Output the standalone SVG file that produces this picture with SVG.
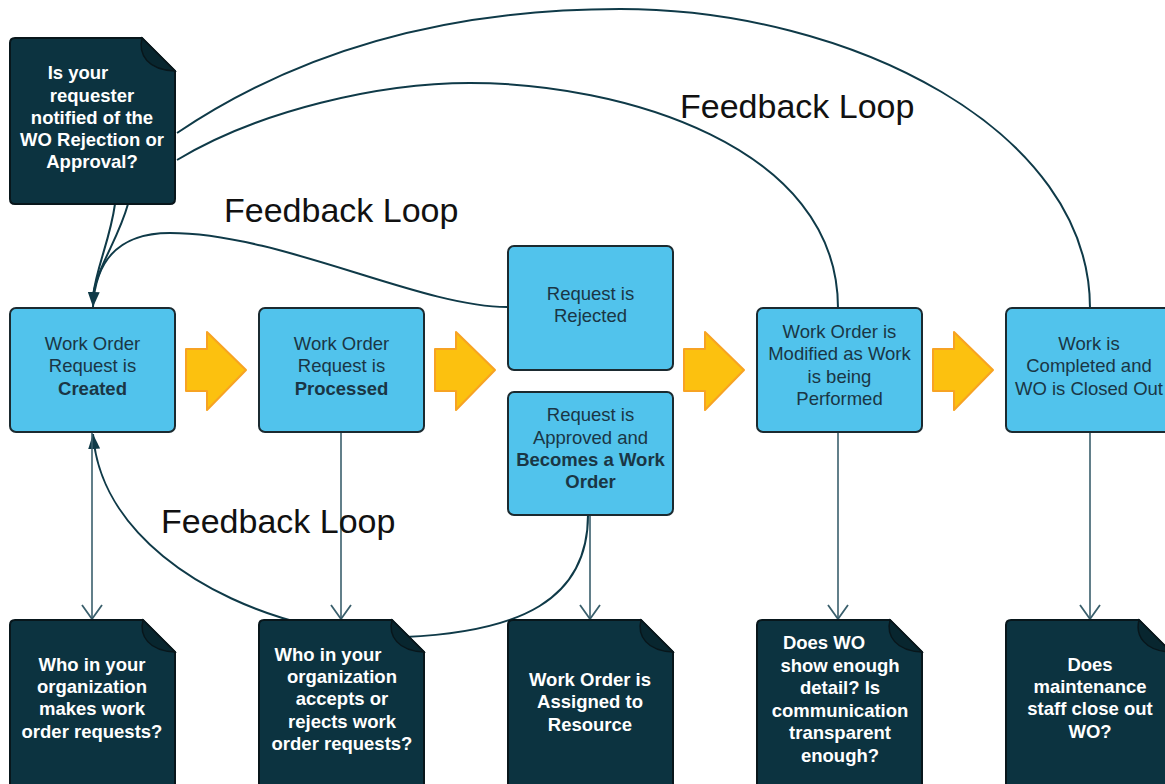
<svg xmlns="http://www.w3.org/2000/svg" width="1165" height="784" viewBox="0 0 1165 784">
<defs>
<style>
.box{fill:#51c3ec;stroke:#1b2a30;stroke-width:2}
.note{fill:#0c3340;stroke:#08161b;stroke-width:2}
.fold{fill:#08262f;stroke:#08161b;stroke-width:1.5}
.btxt{font-family:"Liberation Sans",Arial,sans-serif;font-size:18.5px;fill:#1a3645;text-anchor:middle}
.ntxt{font-family:"Liberation Sans",Arial,sans-serif;font-size:18.5px;font-weight:bold;fill:#ffffff;text-anchor:middle}
.b{font-weight:bold}
.lbl{font-family:"Liberation Sans",Arial,sans-serif;font-size:34px;fill:#111111}
.con{fill:none;stroke:#0f3a48;stroke-width:2}
.conl{fill:none;stroke:#3a5f6c;stroke-width:1.6}
.yarrow{fill:#fcc10f;stroke:#f7a323;stroke-width:2;stroke-linejoin:round}
</style>
<marker id="filled" viewBox="0 0 16 12" refX="15" refY="6" markerWidth="16" markerHeight="12" markerUnits="userSpaceOnUse" orient="auto">
<path d="M0,0 L15,6 L0,12 Z" fill="#0f3a48"/>
</marker>
<marker id="vee" viewBox="0 0 16 22" refX="15" refY="11" markerWidth="16" markerHeight="22" markerUnits="userSpaceOnUse" orient="auto">
<path d="M1,1 L15,11 L1,21" fill="none" stroke="#3a5f6c" stroke-width="1.8"/>
</marker>
<path id="arrowShape" d="M0,17 H21 V0 L60,38 L21,78 V59 H0 Z"/>
</defs>

<rect width="1165" height="784" fill="#ffffff"/>

<g id="connectors">
<!-- Completed -> top note -->
<path class="con" d="M1090,308 C1090,130 850,9 620,9 C450,9 300,50 177,133"/>
<!-- Modified -> top note -->
<path class="con" d="M838,308 C838,145 620,83 470,83 C380,83 260,110 177,160"/>
<!-- top note -> Created -->
<path class="con" d="M115,204 C110,240 97,265 93,296"/>
<path class="con" d="M128,204 C118,240 98,265 93,296"/>
<!-- Rejected -> Created -->
<path class="con" d="M507,307 C420,307 280,233 170,233 C115,233 95,265 93,307" marker-end="url(#filled)"/>
<!-- note2 -> Created bottom -->
<path class="con" d="M312,626 C200,600 100,530 93,434" marker-end="url(#filled)"/>
<!-- Approved -> note2 -->
<path class="con" d="M588,515 C588,600 520,632 405,637"/>
<!-- vertical connectors -->
<path class="conl" d="M92,432 V619" marker-end="url(#vee)"/>
<path class="conl" d="M341,432 V619" marker-end="url(#vee)"/>
<path class="conl" d="M590,515 V619" marker-end="url(#vee)"/>
<path class="conl" d="M838,432 V619" marker-end="url(#vee)"/>
<path class="conl" d="M1090,432 V619" marker-end="url(#vee)"/>
</g>

<g id="labels">
<text class="lbl" x="224" y="222">Feedback Loop</text>
<text class="lbl" x="680" y="118">Feedback Loop</text>
<text class="lbl" x="161" y="533">Feedback Loop</text>
</g>

<g id="flow-arrows">
<use href="#arrowShape" class="yarrow" transform="translate(186,332)"/>
<use href="#arrowShape" class="yarrow" transform="translate(435,332)"/>
<use href="#arrowShape" class="yarrow" transform="translate(684,332)"/>
<use href="#arrowShape" class="yarrow" transform="translate(933,332)"/>
</g>

<g id="n-created">
<rect class="box" x="10" y="308" width="165" height="124" rx="6"/>
<text class="btxt" x="92.5" y="350">Work Order</text>
<text class="btxt" x="92.5" y="372">Request is</text>
<text class="btxt b" x="92.5" y="395">Created</text>
</g>
<g id="n-processed">
<rect class="box" x="259" y="308" width="165" height="124" rx="6"/>
<text class="btxt" x="341.5" y="350">Work Order</text>
<text class="btxt" x="341.5" y="372">Request is</text>
<text class="btxt b" x="341.5" y="395">Processed</text>
</g>
<g id="n-rejected">
<rect class="box" x="508" y="246" width="165" height="124" rx="6"/>
<text class="btxt" x="590.5" y="300">Request is</text>
<text class="btxt" x="590.5" y="322">Rejected</text>
</g>
<g id="n-approved">
<rect class="box" x="508" y="392" width="165" height="123" rx="6"/>
<text class="btxt" x="590.5" y="421">Request is</text>
<text class="btxt" x="590.5" y="444">Approved and</text>
<text class="btxt b" x="590.5" y="466">Becomes a Work</text>
<text class="btxt b" x="590.5" y="488">Order</text>
</g>
<g id="n-modified">
<rect class="box" x="757" y="308" width="165" height="124" rx="6"/>
<text class="btxt" x="839.5" y="338">Work Order is</text>
<text class="btxt" x="839.5" y="360">Modified as Work</text>
<text class="btxt" x="839.5" y="383">is being</text>
<text class="btxt" x="839.5" y="405">Performed</text>
</g>
<g id="n-completed">
<rect class="box" x="1006" y="308" width="170" height="124" rx="6"/>
<text class="btxt" x="1089" y="350">Work is</text>
<text class="btxt" x="1089" y="372">Completed and</text>
<text class="btxt" x="1089" y="395">WO is Closed Out</text>
</g>

<g id="note-notified">
<path class="note" d="M15,38 H142 L175,71 V199 Q175,204 170,204 H15 Q10,204 10,199 V43 Q10,38 15,38 Z"/>
<path class="fold" d="M142,38 C138,55 148,70 175,71 Z"/>
<text class="ntxt" x="78" y="79">Is your</text>
<text class="ntxt" x="92" y="102">requester</text>
<text class="ntxt" x="92" y="124">notified of the</text>
<text class="ntxt" x="92" y="146">WO Rejection or</text>
<text class="ntxt" x="92" y="168">Approval?</text>
</g>

<g id="note-makes">
<path class="note" d="M15,620 H143 L175,652 V800 H10 V625 Q10,620 15,620 Z"/>
<path class="fold" d="M143,620 C139,636 149,651 175,652 Z"/>
<text class="ntxt" x="92" y="671">Who in your</text>
<text class="ntxt" x="92" y="693">organization</text>
<text class="ntxt" x="92" y="715">makes work</text>
<text class="ntxt" x="92" y="738">order requests?</text>
</g>

<g id="note-accepts">
<path class="note" d="M264,620 H392 L424,652 V800 H259 V625 Q259,620 264,620 Z"/>
<path class="fold" d="M392,620 C388,636 398,651 424,652 Z"/>
<text class="ntxt" x="328" y="661">Who in your</text>
<text class="ntxt" x="342" y="683">organization</text>
<text class="ntxt" x="342" y="705">accepts or</text>
<text class="ntxt" x="342" y="728">rejects work</text>
<text class="ntxt" x="342" y="750">order requests?</text>
</g>

<g id="note-assigned">
<path class="note" d="M513,620 H641 L673,652 V800 H508 V625 Q508,620 513,620 Z"/>
<path class="fold" d="M641,620 C637,636 647,651 673,652 Z"/>
<text class="ntxt" x="590" y="686">Work Order is</text>
<text class="ntxt" x="590" y="708">Assigned to</text>
<text class="ntxt" x="590" y="731">Resource</text>
</g>

<g id="note-detail">
<path class="note" d="M762,620 H890 L922,652 V800 H757 V625 Q757,620 762,620 Z"/>
<path class="fold" d="M890,620 C886,636 896,651 922,652 Z"/>
<text class="ntxt" x="824" y="649">Does WO</text>
<text class="ntxt" x="840" y="672">show enough</text>
<text class="ntxt" x="840" y="694">detail? Is</text>
<text class="ntxt" x="840" y="717">communication</text>
<text class="ntxt" x="840" y="739">transparent</text>
<text class="ntxt" x="840" y="762">enough?</text>
</g>

<g id="note-closeout">
<path class="note" d="M1011,620 H1139 L1171,652 V800 H1006 V625 Q1006,620 1011,620 Z"/>
<path class="fold" d="M1139,620 C1135,636 1145,651 1171,652 Z"/>
<text class="ntxt" x="1090" y="671">Does</text>
<text class="ntxt" x="1090" y="693">maintenance</text>
<text class="ntxt" x="1090" y="715">staff close out</text>
<text class="ntxt" x="1090" y="738">WO?</text>
</g>
</svg>
